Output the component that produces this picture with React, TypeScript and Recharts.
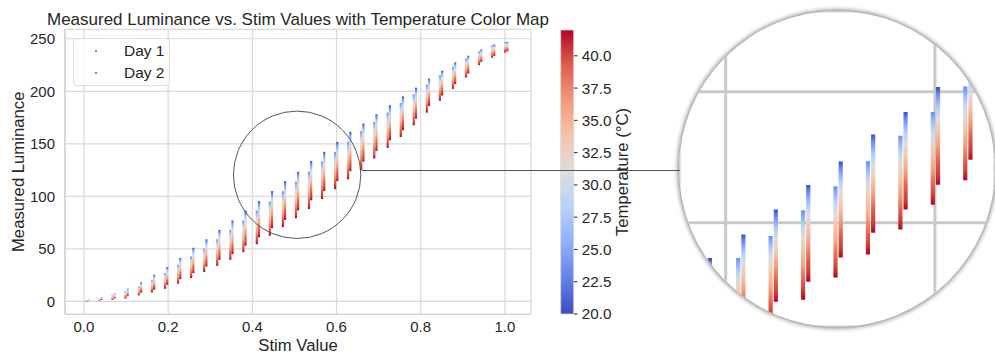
import React from 'react';
import { ComposedChart, Bar, XAxis, YAxis, CartesianGrid, ReferenceDot, Legend } from 'recharts';

// ---------------- data ----------------
const stimValues = [0.009, 0.040, 0.071, 0.102, 0.134, 0.165, 0.196, 0.227, 0.258, 0.289, 0.320, 0.351, 0.382, 0.414, 0.445, 0.476, 0.507, 0.538, 0.569, 0.600, 0.631, 0.662, 0.693, 0.725, 0.756, 0.787, 0.818, 0.849, 0.880, 0.911, 0.942, 0.973, 1.004];
const day1Top = [1.0, 2.6, 5.7, 9.5, 14.2, 20.6, 26.9, 34.8, 42.7, 50.2, 59.2, 68.0, 76.9, 86.5, 94.9, 104.8, 113.9, 123.5, 133.2, 142.3, 152.0, 162.0, 170.8, 179.7, 188.8, 197.1, 206.3, 215.2, 223.2, 231.2, 238.1, 243.8, 247.0];
const day1Bottom = [0.0, 0.4, 1.3, 2.8, 5.7, 8.5, 12.0, 16.8, 22.2, 27.9, 33.9, 39.6, 46.9, 54.4, 62.5, 70.6, 79.1, 87.9, 97.4, 106.9, 116.2, 125.0, 136.0, 146.1, 156.5, 167.6, 179.7, 191.0, 202.3, 213.2, 224.9, 231.9, 236.9];
const day2Top = [1.5, 4.2, 7.3, 12.0, 18.0, 25.3, 32.6, 41.2, 51.0, 59.0, 68.0, 77.0, 86.5, 95.5, 105.0, 114.4, 123.4, 133.7, 142.3, 151.8, 161.5, 169.3, 178.1, 186.6, 195.2, 203.4, 212.0, 219.5, 227.5, 233.8, 239.8, 244.5, 247.0];
const day2Bottom = [0.4, 1.3, 2.8, 5.0, 8.3, 11.1, 15.8, 21.2, 26.9, 33.2, 39.5, 45.0, 53.0, 61.0, 69.8, 77.5, 86.7, 96.2, 105.0, 114.5, 124.0, 133.0, 143.3, 153.4, 162.9, 174.0, 186.0, 196.0, 206.8, 217.0, 228.1, 233.8, 238.1];
const seriesNames = ['Day 1', 'Day 2'];

const titleText = 'Measured Luminance vs. Stim Values with Temperature Color Map';
const xTicks = [0, 0.2, 0.4, 0.6, 0.8, 1.0];
const yTicks = [0, 50, 100, 150, 200, 250];
const tempRange = [20, 42];
const tempTicks = [20, 22.5, 25, 27.5, 30, 32.5, 35, 37.5, 40];

const xDomain = [-0.045, 1.062];
const yDomain = [-12.3, 259];

// magnified region (data coordinates)
const zoomCenter = { x: 0.5064, y: 120.5 };
const zoomHalf = { x: 0.151, y: 60.3 };

const rows = stimValues.map((stim, i) => ({
  stim,
  day1: [day1Bottom[i], day1Top[i]],
  day2: [day2Bottom[i], day2Top[i]],
}));

// ---------------- styles ----------------
const FONT = '"Liberation Sans", Arial, Helvetica, sans-serif';
const TEXT = '#262626';
const GRID = '#d9d9d9';
const SPINE = '#cfcfcf';

const day1Stops: [number, string][] = [
  [0, 'rgb(110,142,240)'], [0.1, 'rgb(150,185,255)'], [0.2, 'rgb(200,214,243)'], [0.3, 'rgb(226,218,212)'],
  [0.45, 'rgb(245,196,172)'], [0.6, 'rgb(245,165,135)'], [0.75, 'rgb(229,112,89)'], [0.9, 'rgb(203,62,56)'], [1, 'rgb(180,4,38)'],
];
const day2Stops: [number, string][] = [
  [0, 'rgb(59,76,192)'], [0.06, 'rgb(98,130,234)'], [0.14, 'rgb(141,176,254)'], [0.22, 'rgb(184,208,249)'],
  [0.32, 'rgb(221,221,221)'], [0.47, 'rgb(245,196,172)'], [0.62, 'rgb(244,154,123)'], [0.77, 'rgb(222,96,77)'],
  [0.9, 'rgb(203,62,56)'], [1, 'rgb(180,4,38)'],
];
const coolwarmStops: [number, string][] = [
  [0, 'rgb(180,4,38)'], [0.125, 'rgb(222,96,77)'], [0.25, 'rgb(244,154,123)'], [0.375, 'rgb(245,196,172)'],
  [0.5, 'rgb(221,221,221)'], [0.625, 'rgb(184,208,249)'], [0.75, 'rgb(141,176,254)'], [0.875, 'rgb(98,130,234)'], [1, 'rgb(59,76,192)'],
];

const Grad = ({ id, stops }: { id: string; stops: [number, string][] }) => (
  <linearGradient id={id} x1="0" y1="0" x2="0" y2="1">
    {stops.map(([o, c]) => (
      <stop key={o} offset={o} stopColor={c} />
    ))}
  </linearGradient>
);

const renderLegend = (props: any) => {
  const payload = props.payload || [];
  return (
    <div
      style={{
        width: '100%', height: '100%', boxSizing: 'border-box', border: '1px solid #dedede', borderRadius: 4,
        background: 'rgba(255,255,255,0.8)', position: 'relative', fontFamily: FONT, fontSize: 15.5, color: TEXT,
      }}
    >
      {payload.map((entry: any, i: number) => (
        <div key={i} style={{ position: 'absolute', left: 0, top: 4.2 + i * 21.7, height: 16, width: '100%' }}>
          <span style={{ position: 'absolute', left: 21.2, top: 7, width: 2, height: 2, borderRadius: 1, background: '#4a66d6' }} />
          <span style={{ position: 'absolute', left: 50.3, top: 0, lineHeight: '15.5px', whiteSpace: 'nowrap' }}>{entry.value}</span>
        </div>
      ))}
    </div>
  );
};

export default function App() {
  return (
    <div style={{ position: 'absolute', left: 0, top: 0, width: 995, height: 353, overflow: 'hidden', background: '#fff', fontFamily: FONT }}>
      <svg width={0} height={0} style={{ position: 'absolute' }}>
        <defs>
          <Grad id="gDay1" stops={day1Stops} />
          <Grad id="gDay2" stops={day2Stops} />
          <Grad id="gTemp" stops={coolwarmStops} />
        </defs>
      </svg>

      {/* main chart */}
      <div style={{ position: 'absolute', left: 0, top: 0 }}>
        <ComposedChart width={540} height={353} data={rows} margin={{ top: 29.3, right: 9, bottom: 0, left: 0 }} barGap={0}>
          <CartesianGrid stroke={GRID} strokeWidth={1.2} />
          <XAxis
            type="number" dataKey="stim" domain={xDomain} ticks={xTicks} height={38.7}
            tickFormatter={(v: number) => v.toFixed(1)} tickSize={0} tickMargin={7.4}
            tick={{ fill: TEXT, fontSize: 15 }} axisLine={{ stroke: SPINE, strokeWidth: 1.3 }} tickLine={false}
            label={{
              content: ({ viewBox }: any) => (
                <text x={viewBox.x + viewBox.width / 2} y={viewBox.y + 36.6} textAnchor="middle" fill={TEXT} fontSize={16.7}>
                  Stim Value
                </text>
              ),
            }}
          />
          <XAxis
            xAxisId="top" orientation="top" type="number" dataKey="stim" domain={xDomain} height={0}
            tick={false} tickLine={false} axisLine={{ stroke: SPINE, strokeWidth: 1.3 }}
          />
          <YAxis
            type="number" domain={yDomain} ticks={yTicks} width={65} tickSize={0} tickMargin={10}
            tick={{ fill: TEXT, fontSize: 15 }} axisLine={{ stroke: SPINE, strokeWidth: 1.3 }} tickLine={false}
            label={{
              content: ({ viewBox }: any) => {
                const cx = viewBox.x + 24.5;
                const cy = viewBox.y + viewBox.height / 2;
                return (
                  <text x={cx} y={cy} transform={`rotate(-90, ${cx}, ${cy})`} textAnchor="middle" fill={TEXT} fontSize={16.7}>
                    Measured Luminance
                  </text>
                );
              },
            }}
          />
          <YAxis
            yAxisId="right" orientation="right" type="number" domain={yDomain} width={0}
            tick={false} tickLine={false} axisLine={{ stroke: SPINE, strokeWidth: 1.3 }}
          />
          <Bar dataKey="day1" name={seriesNames[0]} barSize={2.2} fill="url(#gDay1)" isAnimationActive={false} />
          <Bar dataKey="day2" name={seriesNames[1]} barSize={2.2} fill="url(#gDay2)" isAnimationActive={false} />
          <ReferenceDot x={zoomCenter.x} y={zoomCenter.y} r={63.7} fill="none" stroke="#555" strokeWidth={1} ifOverflow="visible" />
          <Legend
            layout="vertical" align="center" verticalAlign="middle" content={renderLegend}
            wrapperStyle={{ left: 72.7, top: 37.7, width: 97.3, height: 48.3, right: 'auto', bottom: 'auto' }}
          />
        </ComposedChart>
      </div>

      {/* colorbar */}
      <div style={{ position: 'absolute', left: 540, top: 0 }}>
        <ComposedChart width={120} height={353} data={[{ name: 'cb', range: tempRange }]} margin={{ top: 30, right: 0, bottom: 39, left: 20.7 }} barCategoryGap={0}>
          <XAxis dataKey="name" type="category" hide />
          <YAxis
            orientation="right" type="number" domain={tempRange} ticks={tempTicks} width={86}
            tickSize={3.5} tickMargin={4.2} tickFormatter={(v: number) => v.toFixed(1)}
            axisLine={false} tickLine={{ stroke: TEXT, strokeWidth: 1 }} tick={{ fill: TEXT, fontSize: 15.3 }}
            label={{
              content: ({ viewBox }: any) => {
                const cx = viewBox.x + 54;
                const cy = viewBox.y + viewBox.height / 2;
                return (
                  <text x={cx} y={cy} transform={`rotate(-90, ${cx}, ${cy})`} textAnchor="middle" fill={TEXT} fontSize={16.7}>
                    Temperature (°C)
                  </text>
                );
              },
            }}
          />
          <Bar dataKey="range" fill="url(#gTemp)" stroke="#d4d4d4" strokeWidth={0.8} isAnimationActive={false} />
        </ComposedChart>
      </div>

      {/* magnified inset */}
      <div
        style={{
          position: 'absolute', left: 679, top: 11, width: 316, height: 316, borderRadius: '50%', overflow: 'hidden',
          background: '#fff', boxShadow: '0 0 4px 1.5px rgba(0,0,0,0.45)',
        }}
      >
        <ComposedChart width={316} height={316} data={rows} margin={{ top: 0, right: 0, bottom: 0, left: 0 }} barGap={1}>
          <CartesianGrid stroke="#c9c9c9" strokeWidth={3} />
          <XAxis type="number" dataKey="stim" domain={[zoomCenter.x - zoomHalf.x, zoomCenter.x + zoomHalf.x]} ticks={xTicks} hide allowDataOverflow />
          <YAxis type="number" domain={[zoomCenter.y - zoomHalf.y, zoomCenter.y + zoomHalf.y]} ticks={yTicks} hide allowDataOverflow />
          <Bar dataKey="day1" name={seriesNames[0]} barSize={4.2} fill="url(#gDay1)" isAnimationActive={false} />
          <Bar dataKey="day2" name={seriesNames[1]} barSize={4.2} fill="url(#gDay2)" isAnimationActive={false} />
        </ComposedChart>
      </div>

      {/* title */}
      <svg width={995} height={40} style={{ position: 'absolute', left: 0, top: 0, pointerEvents: 'none' }}>
        <text x={298} y={25.3} textAnchor="middle" fill={TEXT} fontSize={17} fontFamily={FONT}>
          {titleText}
        </text>
      </svg>

      {/* connector from circled region to inset */}
      <div style={{ position: 'absolute', left: 362, top: 170.2, width: 318, height: 1, background: '#555', zIndex: 10 }} />
    </div>
  );
}
